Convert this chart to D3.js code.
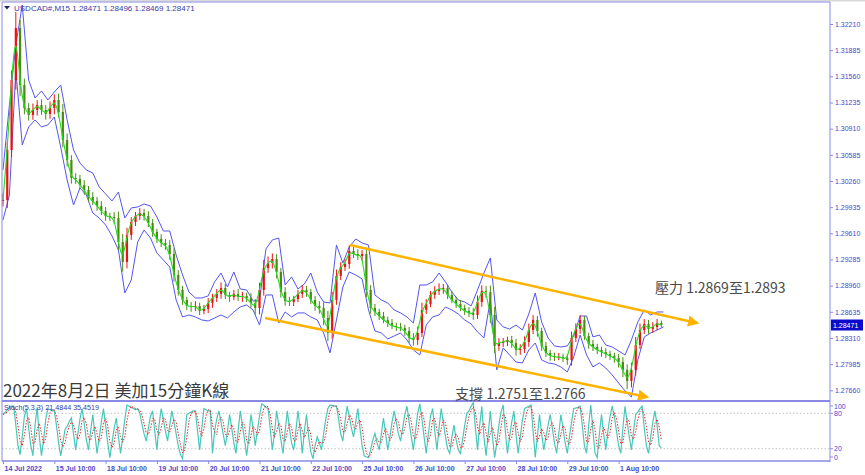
<!DOCTYPE html>
<html><head><meta charset="utf-8">
<script src="https://cdn.jsdelivr.net/npm/d3@7/dist/d3.min.js"></script>
<style>
body{margin:0;background:#fff;}
svg{display:block;}
</style></head><body>
<svg id="c" width="865" height="475"></svg>
<script>
// ---- DATA ----
// 2-hour closes (t = 0,2,4,... hours of trading time since 14 Jul 10:00)
const closes = [
1.30024,1.30645,1.31514,1.32160,1.31452,1.31167,1.31080,1.31142,1.31204,1.31142,
1.31092,1.31167,1.31266,1.31117,1.30769,1.30521,1.30297,1.30285,1.30210,1.30148,
1.30061,1.30012,1.29950,1.29887,1.29825,1.29813,1.29800,1.29502,1.29254,1.29589,
1.29751,1.29825,1.29863,1.29825,1.29738,1.29627,1.29540,1.29490,1.29465,1.29353,
1.29093,1.28906,1.28782,1.28708,1.28695,1.28708,1.28645,1.28670,1.28745,1.28807,
1.28857,1.28931,1.28844,1.28819,1.28857,1.28819,1.28832,1.28807,1.28745,1.28683,
1.28906,1.29179,1.29242,1.29291,1.29130,1.28881,1.28770,1.28757,1.28794,1.28857,
1.28906,1.28881,1.28782,1.28708,1.28683,1.28558,1.28372,1.28782,1.29080,1.29192,
1.29229,1.29391,1.29353,1.29329,1.29353,1.28906,1.28683,1.28633,1.28583,1.28534,
1.28496,1.28459,1.28447,1.28434,1.28397,1.28310,1.28285,1.28372,1.28658,1.28732,
1.28844,1.28894,1.28919,1.28931,1.28844,1.28782,1.28732,1.28683,1.28645,1.28621,
1.28596,1.28757,1.28894,1.28881,1.28596,1.28211,1.28248,1.28260,1.28285,1.28248,
1.28161,1.28173,1.28260,1.28409,1.28534,1.28397,1.28211,1.28124,1.28087,1.28074,
1.28074,1.28062,1.28037,1.28310,1.28422,1.28534,1.28335,1.28236,1.28198,1.28161,
1.28136,1.28111,1.28087,1.28062,1.28012,1.27913,1.27776,1.27913,1.28223,1.28409,
1.28484,1.28422,1.28447,1.28496,1.28471];
// wick length above / below each candle body, in pips (0.0001)
const wickUpPips = [
8,10,12,20,10,8,6,8,6,7, 6,8,7,8,10,8,6,6,5,6,
5,6,5,6,5,4,6,8,10,9, 6,5,6,5,6,5,4,6,5,6,
7,6,5,4,5,6,4,5,6,5, 6,7,5,4,5,6,5,4,6,5,
9,10,8,7,6,5,6,5,4,5, 6,5,4,5,6,7,9,10,8,6,
6,7,5,6,5,8,6,5,4,5, 4,5,4,5,4,5,6,8,9,6,
5,6,7,5,4,5,4,5,4,5, 6,8,7,6,8,10,6,5,4,5,
5,6,7,8,6,5,4,5,4,4, 5,4,5,8,7,6,5,4,5,4,
4,5,4,4,5,6,7,9,10,8, 6,5,6,5,3];
const wickDownPips = [
8,10,9,12,14,8,7,6,7,6, 7,6,8,7,9,8,7,6,5,6,
6,5,6,5,6,5,7,10,12,8, 6,5,5,6,5,6,5,5,6,7,
8,7,6,5,6,5,5,4,5,6, 5,6,5,6,4,5,6,5,6,8,
8,7,6,7,8,7,6,5,5,4, 5,6,5,6,7,9,10,7,6,5,
5,6,5,5,6,9,7,5,5,4, 5,4,5,4,6,6,7,6,5,5,
4,5,5,6,5,4,5,4,5,5, 6,5,6,7,10,9,6,5,5,6,
7,6,5,6,5,7,6,5,6,5, 4,5,6,7,5,6,5,6,5,5,
6,5,5,6,7,9,10,8,7,5, 5,6,5,4,3];
const closeStepHours = 2;

// band lines, every 3 hours
const upperBand = [
1.30397,1.31204,1.31949,1.32446,1.31514,1.31291,1.31378,1.31266,1.31365,1.31452,
1.31018,1.30645,1.30484,1.30397,1.30359,1.30186,1.30099,1.30012,1.30123,1.29800,
1.29925,1.29937,1.29974,1.29950,1.29813,1.29639,1.29639,1.29341,1.29093,1.28881,
1.28807,1.28807,1.28832,1.29006,1.29117,1.28943,1.29130,1.28919,1.28906,1.28770,
1.28770,1.29415,1.29527,1.29552,1.28968,1.29068,1.28919,1.28981,1.29117,1.28881,
1.28757,1.28745,1.29465,1.29242,1.29440,1.29540,1.29490,1.29465,1.28844,1.28782,
1.28745,1.28658,1.28621,1.28571,1.28496,1.28968,1.28968,1.29006,1.29117,1.29006,
1.28881,1.28782,1.28757,1.28708,1.28906,1.29117,1.29304,1.28534,1.28447,1.28422,
1.28471,1.28409,1.28608,1.28869,1.28509,1.28310,1.28211,1.28198,1.28211,1.28335,
1.28583,1.28583,1.28323,1.28347,1.28223,1.28198,1.28149,1.28099,1.28285,1.28509,
1.28658,1.28596,1.28633,1.28633];
const lowerBand = [
1.29776,1.30086,1.31639,1.30707,1.30931,1.31018,1.30931,1.30956,1.31055,1.30682,
1.30272,1.29962,1.30173,1.30086,1.29863,1.29800,1.29714,1.29577,1.29403,1.28869,
1.29030,1.29502,1.29651,1.29552,1.29366,1.29279,1.29192,1.28782,1.28571,1.28596,
1.28571,1.28534,1.28521,1.28558,1.28596,1.28558,1.28633,1.28695,1.28720,1.28658,
1.28471,1.28844,1.28844,1.28496,1.28633,1.28571,1.28621,1.28621,1.28571,1.28534,
1.28372,1.28124,1.28534,1.28943,1.29130,1.29093,1.29043,1.28658,1.28397,1.28372,
1.28298,1.28335,1.28372,1.28285,1.28161,1.28099,1.28471,1.28571,1.28596,1.28695,
1.28658,1.28608,1.28534,1.28484,1.28385,1.28310,1.28782,1.27913,1.28186,1.28099,
1.28012,1.28000,1.28161,1.28248,1.28037,1.28000,1.27987,1.27950,1.27888,1.28074,
1.28347,1.28099,1.27950,1.28000,1.27937,1.27851,1.27751,1.27652,1.27577,1.28037,
1.28323,1.28372,1.28409,1.28447];
const bandStepHours = 3;

// Stochastic (5,3,3), hourly
const stochMain = [
78,82,86,90,92,92,60,25,10,40, 75,88,55,25,8,60,90,40,8,35,
70,88,86,84,84,60,30,8,30,52, 58,66,72,45,18,45,70,88,62,35,
18,50,78,45,12,38,65,88,60,30, 5,30,55,72,40,12,40,70,94,92,
90,88,86,88,80,62,45,33,55,75, 84,50,18,60,88,70,50,33,60,84,
65,45,25,10,3,40,78,80,82,84, 84,50,18,55,88,86,84,84,12,50,
70,84,65,45,25,50,78,55,30,12, 50,84,60,35,8,40,78,55,25,50,
75,96,94,90,88,55,18,45,84,60, 35,12,50,84,55,30,18,50,84,55,
12,50,78,40,15,3,25,40,30,18, 45,70,88,94,93,92,92,70,45,33,
65,92,75,55,40,65,88,55,25,8, 6,5,18,35,46,30,18,45,72,45,
18,40,65,84,65,45,33,55,78,92, 65,40,18,50,80,96,70,40,12,45,
75,88,50,18,55,88,65,40,20,12, 40,60,35,18,12,35,60,80,84,92,
98,55,18,60,92,40,8,45,84,40, 5,30,60,82,94,50,12,40,65,84,
45,12,40,68,88,90,92,94,50,5, 40,78,45,18,40,60,78,55,30,12,
45,78,55,30,12,40,65,88,89,90, 92,60,25,12,60,94,50,12,5,45,
78,45,18,50,75,92,75,50,25,12, 55,92,65,40,18,50,78,82,88,92,
55,25,12,40,65,84,60,25,21.4844];
const stochSignal = [
78,80,82,86,89,91,81,59,32,25, 42,68,73,56,29,31,53,63,46,28,
38,64,81,86,85,76,58,33,23,30, 47,59,65,61,45,36,44,68,73,62,
38,34,49,58,45,32,38,64,71,59, 32,22,30,52,56,41,31,41,68,85,
92,90,88,87,85,77,62,47,44,54, 71,70,51,43,55,73,69,51,48,59,
70,65,45,27,13,18,40,66,80,82, 83,73,51,41,54,76,86,85,60,49,
44,68,73,65,45,40,51,61,54,32, 31,49,65,60,34,28,42,58,53,43,
50,74,88,93,91,78,54,39,49,63, 60,36,32,49,63,56,34,33,51,63,
50,39,47,56,44,19,14,23,32,29, 31,44,68,84,92,93,92,85,69,49,
48,63,77,74,57,53,64,69,56,29, 13,6,10,19,33,37,31,31,45,54,
45,34,41,63,71,65,48,44,55,75, 78,66,41,36,49,75,82,69,41,32,
44,69,71,52,41,54,69,64,42,24, 24,37,45,38,22,22,36,58,75,85,
91,82,57,44,57,64,47,31,46,56, 43,25,32,57,79,75,52,34,39,63,
65,47,32,40,65,82,90,92,79,50, 32,41,54,47,34,39,59,64,54,32,
29,45,59,54,32,27,39,64,81,89, 90,81,59,32,32,55,68,52,22,21,
43,56,47,38,48,72,81,72,50,29, 31,53,71,66,41,36,49,70,83,87,
78,57,31,26,39,63,70,56,35.4519];
const stochLevels = [80, 20];
const stochLabels = [100, 80, 20, 0];

const priceTicks = [1.32210,1.31885,1.31560,1.31235,1.30910,1.30585,1.30260,1.29935,
  1.29610,1.29285,1.28960,1.28635,1.28310,1.27985,1.27660];
const lastPrice = 1.28471;
const timeTicks = [0,24,48,72,96,120,144,168,192,216,240,264,288];
const timeLabels = ["14 Jul 2022","15 Jul 10:00","18 Jul 10:00","19 Jul 10:00","20 Jul 10:00",
  "21 Jul 10:00","22 Jul 10:00","25 Jul 10:00","26 Jul 10:00","27 Jul 10:00","28 Jul 10:00",
  "29 Jul 10:00","1 Aug 10:00"];

// trend lines: [hour, price]
const resistanceLine = [[162.3, 1.29465],[324.7, 1.28496]];
const supportLine = [[122.6, 1.28558],[301.3, 1.27577]];

const headerText = "USDCAD#,M15  1.28471 1.28496 1.28469 1.28471";
const stochText = "Stoch(5,3,3) 21.4844 35.4519";
const titleText = "2022年8月2日 美加15分鐘K線";
const resistanceText = "壓力 1.2869至1.2893";
const supportText = "支撐 1.2751至1.2766";

// ---- DRAW ----
const svg = d3.select("#c");
const L = 2, R = 830, T = 2, SEP = 401, B = 461;
const frameColor = "#8a8ae6", axisText = "#4848c8";
const PIP = 0.0001;

const x = d3.scaleLinear().domain([0, 288]).range([3, 618.6]);
const y = d3.scaleLinear().domain([1.27660, 1.32210]).range([390.3, 24]);
const ys = d3.scaleLinear().domain([0, 100]).range([460.5, 401.5]);

svg.append("rect").attr("x",0).attr("y",0).attr("width",865).attr("height",475).attr("fill","#fff");
svg.append("rect").attr("x",0).attr("y",0).attr("width",865).attr("height",1.5).attr("fill","#d8d8d8");

const defs = svg.append("defs");
defs.append("clipPath").attr("id","mainClip").append("rect")
  .attr("x",L).attr("y",T).attr("width",R-L).attr("height",SEP-T-1);
defs.append("clipPath").attr("id","subClip").append("rect")
  .attr("x",L).attr("y",SEP+1).attr("width",R-L).attr("height",B-SEP-1);
defs.append("marker").attr("id","arr").attr("viewBox","0 0 10 10")
  .attr("refX",8).attr("refY",5).attr("markerWidth",4.5).attr("markerHeight",4.5)
  .attr("orient","auto").append("path").attr("d","M0,0 L10,5 L0,10 Z").attr("fill","#ffb300");

const main = svg.append("g").attr("clip-path","url(#mainClip)");

// bands
const bandLine = d3.line().x((d,i)=>x(i*bandStepHours)).y(d=>y(d));
[upperBand, lowerBand].forEach(b=>{
  main.append("path").datum(b).attr("d",bandLine).attr("fill","none")
    .attr("stroke","#5555ee").attr("stroke-width",1);
});

// candles
const candles = closes.map((c,i)=>{
  const o = i>0?closes[i-1]:c;
  return {t:i*closeStepHours, o:o, c:c,
    h: Math.max(o,c)+wickUpPips[i]*PIP, l: Math.min(o,c)-wickDownPips[i]*PIP};
});
const col = d=>d.c>=d.o?"#ee1111":"#4a8c10";
main.selectAll("line.wk").data(candles).enter().append("line").attr("class","wk")
  .attr("x1",d=>x(d.t)).attr("x2",d=>x(d.t))
  .attr("y1",d=>y(d.h)).attr("y2",d=>y(d.l))
  .attr("stroke",col).attr("stroke-width",1);
main.selectAll("rect.cdl").data(candles).enter().append("rect").attr("class","cdl")
  .attr("x",d=>x(d.t)-1.1).attr("width",2.2)
  .attr("y",d=>y(Math.max(d.o,d.c)))
  .attr("height",d=>Math.max(1, Math.abs(y(d.o)-y(d.c))))
  .attr("fill",col);

// green line following the closes
main.append("path").datum(candles)
  .attr("d", d3.line().x(d=>x(d.t)).y(d=>y(d.c)).curve(d3.curveBasis))
  .attr("fill","none").attr("stroke","#22dd22").attr("stroke-width",1.1);

// trend lines
[resistanceLine, supportLine].forEach(l=>{
  svg.append("line").attr("x1",x(l[0][0])).attr("y1",y(l[0][1]))
    .attr("x2",x(l[1][0])).attr("y2",y(l[1][1]))
    .attr("stroke","#ffb300").attr("stroke-width",2.5).attr("marker-end","url(#arr)");
});

// stochastic panel
const sub = svg.append("g").attr("clip-path","url(#subClip)");
stochLevels.forEach(v=>{
  sub.append("line").attr("x1",L).attr("x2",R).attr("y1",ys(v)).attr("y2",ys(v))
    .attr("stroke","#c4c4c4").attr("stroke-dasharray","1.5,2");
});
sub.append("path").datum(stochMain)
  .attr("d", d3.line().x((d,i)=>x(i)).y(d=>ys(d)))
  .attr("fill","none").attr("stroke","#48c8b8").attr("stroke-width",1.2);
sub.append("path").datum(stochSignal)
  .attr("d", d3.line().x((d,i)=>x(i)).y(d=>ys(d)))
  .attr("fill","none").attr("stroke","#ee2222").attr("stroke-width",1).attr("stroke-dasharray","1.5,1.5");

// frame
const fr = svg.append("g").attr("stroke",frameColor).attr("fill","none");
fr.append("line").attr("x1",L).attr("x2",L).attr("y1",T).attr("y2",B);
fr.append("line").attr("x1",R).attr("x2",R).attr("y1",T).attr("y2",B+1);
fr.append("line").attr("x1",L).attr("x2",R).attr("y1",T).attr("y2",T);
fr.append("line").attr("x1",L).attr("x2",R).attr("y1",SEP).attr("y2",SEP).attr("stroke-width",2);
fr.append("line").attr("x1",L).attr("x2",R).attr("y1",B).attr("y2",B).attr("stroke-width",1.5);

// price axis
const pa = svg.append("g").attr("transform",`translate(${R},0)`)
  .call(d3.axisRight(y).tickValues(priceTicks).tickSize(3).tickPadding(2).tickFormat(d3.format(".5f")));
pa.select(".domain").remove();
pa.selectAll("line").attr("stroke",frameColor);
pa.selectAll("text").attr("fill",axisText).style("font-family","'Liberation Sans',Arial,sans-serif").style("font-size","7px");

// last price box
const lp = svg.append("g");
lp.append("rect").attr("x",R+1).attr("y",y(lastPrice)-5.5).attr("width",32).attr("height",11).attr("fill","#0a0ac8");
lp.append("text").attr("x",R+3).attr("y",y(lastPrice)+2.5).text(d3.format(".5f")(lastPrice))
  .attr("fill","#fff").style("font-family","'Liberation Sans',Arial,sans-serif").style("font-size","7px");

// stoch axis labels
stochLabels.forEach(v=>{
  const yy = Math.max(SEP+5, Math.min(B-4, ys(v)));
  svg.append("line").attr("x1",R).attr("x2",R+3).attr("y1",yy).attr("y2",yy).attr("stroke",frameColor);
  svg.append("text").attr("x",R+4).attr("y",yy+2.5).text(v).attr("fill",axisText)
    .style("font-family","'Liberation Sans',Arial,sans-serif").style("font-size","7px");
});

// time axis
const ta = svg.append("g").attr("transform",`translate(0,${B})`)
  .call(d3.axisBottom(x).tickValues(timeTicks).tickSize(3).tickFormat((d,i)=>timeLabels[i]));
ta.select(".domain").remove();
ta.selectAll("line").attr("stroke",frameColor);
ta.selectAll("text").attr("fill",axisText).attr("text-anchor","start").attr("x",1).attr("y",5).attr("dy","0.71em")
  .style("font-family","'Liberation Sans',Arial,sans-serif").style("font-size","7px").style("font-weight","bold");

// header
svg.append("path").attr("d","M4,6 L10,6 L7,9.5 Z").attr("fill","#222266");
svg.append("text").attr("x",14).attr("y",11).text(headerText).attr("fill","#3a3aa8")
  .style("font-family","'Liberation Sans',Arial,sans-serif").style("font-size","8px");
svg.append("text").attr("x",4).attr("y",410).text(stochText).attr("fill","#3a3aa8")
  .style("font-family","'Liberation Sans',Arial,sans-serif").style("font-size","7.2px");

// annotations
const cjk = "'Noto Sans CJK TC','Noto Sans CJK SC',sans-serif";
svg.append("text").attr("x",3).attr("y",397).text(titleText).attr("fill","#3a3a3a")
  .style("font-family",cjk).style("font-size","17px");
svg.append("text").attr("x",655).attr("y",293).text(resistanceText).attr("fill","#4a4a4a")
  .style("font-family",cjk).style("font-size","14px");
svg.append("text").attr("x",455).attr("y",399).text(supportText).attr("fill","#4a4a4a")
  .style("font-family",cjk).style("font-size","14px");
</script>
</body></html>
